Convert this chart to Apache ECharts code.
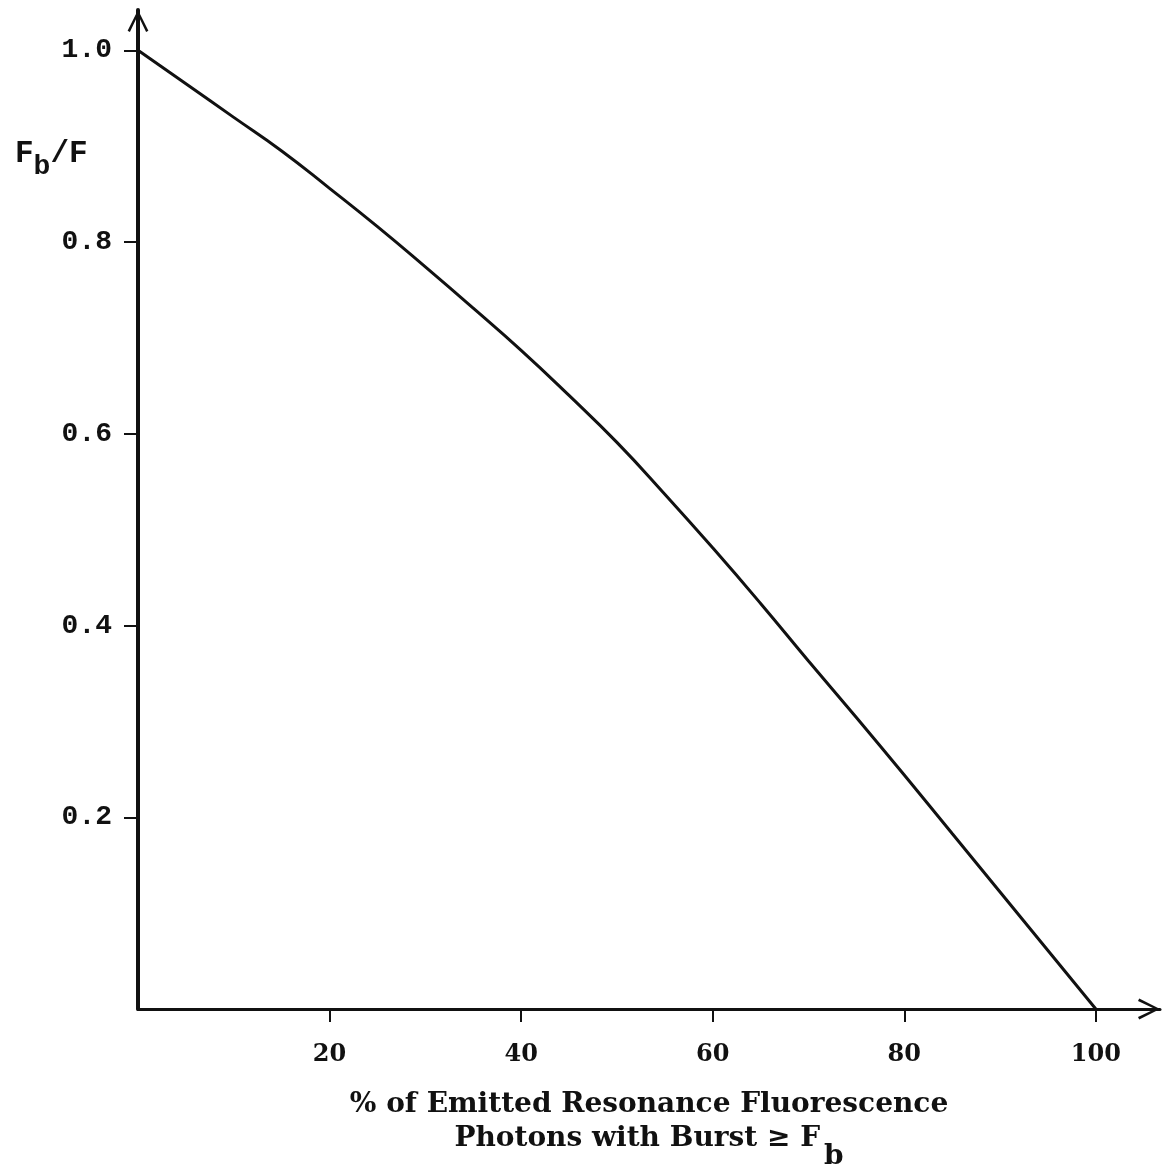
<!DOCTYPE html>
<html>
<head>
<meta charset="utf-8">
<script src="https://cdn.jsdelivr.net/npm/echarts@6/dist/echarts.min.js"></script>
<style>
  html, body { margin: 0; padding: 0; background: #fff; }
  #chart { width: 1165px; height: 1169px; }
</style>
</head>
<body>
<div id="chart"></div>
<script>
// values
var pctEmitted = [0, 5, 10, 15, 20, 25, 30, 35, 40, 45, 50, 55, 60, 65, 70, 75, 80, 85, 90, 95, 100];
var burstRatio = [1.0, 0.965, 0.930, 0.895, 0.856, 0.816, 0.774, 0.731, 0.687, 0.640, 0.591, 0.537, 0.481, 0.423, 0.363, 0.304, 0.244, 0.183, 0.122, 0.061, 0.0];
var xTicks = [20, 40, 60, 80, 100];
var yTicks = [0.2, 0.4, 0.6, 0.8, 1.0];

// open arrow head, points up like the built-in 'arrow'
var chevron = 'path://M5,0 L10,10 L8.9,10.6 L5,2.4 L1.1,10.6 L0,10 Z';

var chart = echarts.init(document.getElementById('chart'));

var points = pctEmitted.map(function(x, i){ return [x, burstRatio[i]]; });

var option = {
    backgroundColor: '#fff',
    animation: false,
    title: {
        left: 10,
        top: 134,
        text: '{m|F}{s|b}{m|/F}',
        textStyle: {
            rich: {
                m: { fontFamily: 'Liberation Mono', fontWeight: 'bold', fontSize: 31, color: '#111', verticalAlign: 'top', lineHeight: 34 },
                s: { fontFamily: 'Liberation Mono', fontWeight: 'bold', fontSize: 28, color: '#111', lineHeight: 28, padding: [22, 0, 0, 0] }
            }
        }
    },
    grid: { left: 138, right: 5, top: 10, bottom: 160, outerBoundsMode: 'none' },
    xAxis: {
        type: 'value',
        min: 0,
        max: 106.7,
        interval: 20,
        splitLine: { show: false },
        axisLine: {
            lineStyle: { color: '#111', width: 3 },
            symbol: ['none', chevron],
            symbolSize: [22, 22],
            symbolOffset: [0, -11]
        },
        axisTick: { show: true, length: 13, lineStyle: { color: '#111', width: 2 }, customValues: xTicks },
        axisLabel: {
            customValues: xTicks,
            margin: 34,
            color: '#111',
            fontFamily: 'DejaVu Serif',
            fontWeight: 'bold',
            fontSize: 24,
            formatter: function(v){ return String(v); }
        },
        name: '{t|% of Emitted Resonance Fluorescence}\n{t|Photons with Burst ≥ F}{s|b}',
        nameLocation: 'middle',
        nameGap: 82,
        nameTextStyle: {
            rich: {
                t: { fontFamily: 'DejaVu Serif', fontWeight: 'bold', fontSize: 28, color: '#111', lineHeight: 34, verticalAlign: 'top' },
                s: { fontFamily: 'DejaVu Serif', fontWeight: 'bold', fontSize: 28, color: '#111', lineHeight: 26, padding: [30, 0, 0, 4] }
            }
        }
    },
    yAxis: {
        type: 'value',
        min: 0,
        max: 1.042,
        interval: 0.2,
        splitLine: { show: false },
        axisLine: {
            lineStyle: { color: '#111', width: 4 },
            symbol: ['none', chevron],
            symbolSize: [22, 22],
            symbolOffset: [0, -11]
        },
        axisTick: { show: true, length: 14, lineStyle: { color: '#111', width: 2 }, customValues: yTicks },
        axisLabel: {
            customValues: yTicks,
            margin: 26,
            color: '#111',
            fontFamily: 'Liberation Mono',
            fontWeight: 'bold',
            fontSize: 28,
            formatter: function(v){ return v.toFixed(1); }
        }
    },
    series: [{
        type: 'line',
        data: points,
        smooth: true,
        showSymbol: false,
        lineStyle: { color: '#111', width: 3 }
    }]
};

chart.setOption(option);
</script>
</body>
</html>
